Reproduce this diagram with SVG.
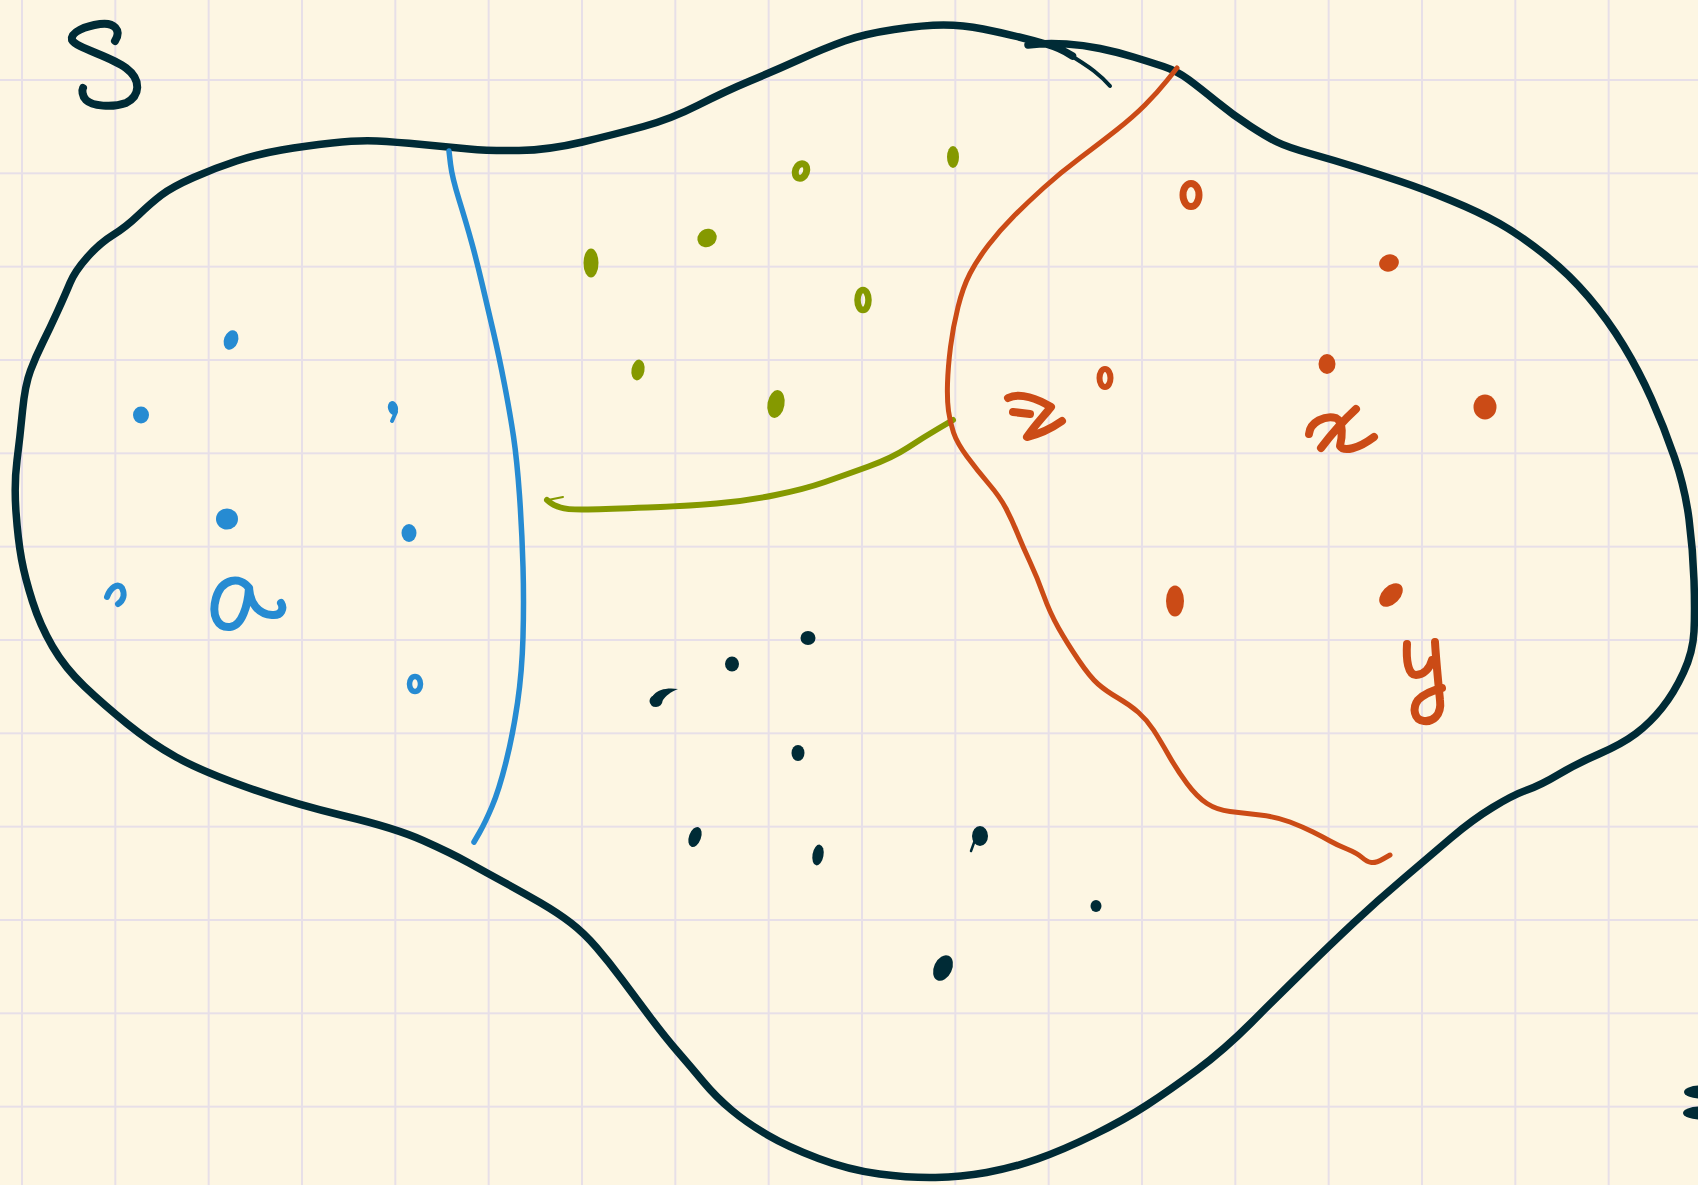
<svg xmlns="http://www.w3.org/2000/svg" width="1698" height="1185" viewBox="0 0 1698 1185">
<style>
.ink{fill:none;stroke-linecap:round;stroke-linejoin:round}
.outline{stroke:#002b36;stroke-width:7.5}
.bl{fill:#268bd2}.gr{fill:#859900}.dk{fill:#002b36}.or{fill:#cb4b16}
.blS{stroke:#268bd2}.grS{stroke:#859900}.orS{stroke:#cb4b16}.dkS{stroke:#002b36}
.ringB{fill:none;stroke:#268bd2}.ringG{fill:none;stroke:#859900}.ringO{fill:none;stroke:#cb4b16}
</style>
<defs>
<pattern id="grid" x="21" y="-14.33" width="93.333" height="93.333" patternUnits="userSpaceOnUse">
<path d="M1 0 V93.333 M0 1 H93.333" stroke="#e7dfe8" stroke-width="2" fill="none"/>
</pattern>
</defs>
<rect width="1698" height="1185" fill="#fdf6e3"/>
<rect width="1698" height="1185" fill="url(#grid)"/>

<g id="set-S">
<path class="ink outline" d="M 1028 45 L 1039 44 Q 1050 43 1066.5 44 Q 1083 45 1100 48.5 Q 1117 52 1133.5 57 Q 1150 62 1163.5 66.5 Q 1177 71 1188.5 79.5 Q 1200 88 1216.5 101.5 Q 1233 115 1250 126 Q 1267 137 1277 142 Q 1287 147 1310 153.5 Q 1333 160 1355.5 167 Q 1378 174 1400.5 181.5 Q 1423 189 1451 200.5 Q 1479 212 1499.5 223.5 Q 1520 235 1544.5 254.5 Q 1569 274 1588.5 297 Q 1608 320 1623.5 345.5 Q 1639 371 1651.5 399 Q 1664 427 1674.5 457.5 Q 1685 488 1689 519 Q 1693 550 1694 580.5 Q 1695 611 1694 631.5 Q 1693 652 1683.5 672.5 Q 1674 693 1662 708 Q 1650 723 1636 733.5 Q 1622 744 1599 754 Q 1576 764 1558.5 774.5 Q 1541 785 1527 790 Q 1513 795 1492.5 807.5 Q 1472 820 1451 838 Q 1430 856 1403.5 878.5 Q 1377 901 1353.5 923 Q 1330 945 1304 970.5 Q 1278 996 1251 1023 Q 1224 1050 1197 1070 Q 1170 1090 1147 1105 Q 1124 1120 1093.5 1135 Q 1063 1150 1037.5 1159 Q 1012 1168 986.5 1172.5 Q 961 1177 935.5 1177.5 Q 910 1178 879.5 1174 Q 849 1170 818.5 1158.5 Q 788 1147 767.5 1135 Q 747 1123 731.5 1110 Q 716 1097 703.5 1082 Q 691 1067 678 1052 Q 665 1037 650 1017 Q 635 997 622 979.5 Q 609 962 596.5 947.5 Q 584 933 571 923 Q 558 913 540 902.5 Q 522 892 504.5 882.5 Q 487 873 469 863 Q 451 853 423 840.5 Q 395 828 344.5 816 Q 294 804 247.5 787.5 Q 201 771 176 757 Q 151 743 127.5 724 Q 104 705 84.5 686.5 Q 65 668 52.5 646.5 Q 40 625 32.5 601.5 Q 25 578 21.5 559 Q 18 540 16 512 Q 14 484 17 460.5 Q 20 437 22.5 411 Q 25 385 30.5 370.5 Q 36 356 43 342 Q 50 328 57.5 311.5 Q 65 295 70 283 Q 75 271 87.5 257 Q 100 243 113 235 Q 126 227 138.5 215 Q 151 203 161.5 195 Q 172 187 193.5 177.5 Q 215 168 236.5 161 Q 258 154 281.5 150 Q 305 146 332 143 Q 359 140 377 141 Q 395 142 422 144.5 Q 449 147 469 149 Q 489 151 519 150.5 Q 549 150 582.5 142 Q 616 134 643.5 126.5 Q 671 119 698.5 105 Q 726 91 750 81 Q 774 71 799.5 59.5 Q 825 48 844.5 41 Q 864 34 894 29.5 Q 924 25 943.5 25 Q 963 25 983 29 Q 1003 33 1019 37 Q 1035 41 1047.5 44.5 Q 1060 48 1072.5 56"/>
<path class="ink dkS" stroke-width="4" d="M 1065 52 Q 1085 64 1094 71 Q 1103 78 1110 86"/>
<path class="ink dkS" stroke-width="8" d="M 115 41 C 122 30, 114 22, 100 24 C 86 26, 70 32, 72 40 C 76 48, 110 56, 126 68 C 142 80, 140 96, 126 103 C 112 108, 92 106, 86 100 C 82 96, 82 90, 83 88"/>
<ellipse class="dk" cx="1700" cy="1092" rx="16" ry="6.5"/>
<ellipse class="dk" cx="1700" cy="1113" rx="17" ry="6.5"/>
</g>

<g id="connectors">
<path id="blue-cut" class="ink blS" stroke-width="5.5" d="M 449 151 L 450.5 164 Q 452 177 459.3 200.5 Q 466.6 224 471.8 243 Q 477 262 482.5 285.5 Q 488 309 493.5 332.5 Q 499 356 504.5 384.5 Q 510 413 513.5 436.5 Q 517 460 519.5 495.5 Q 522 531 523 566.5 Q 524 602 523 637 Q 522 672 517.5 703 Q 513 734 506 762 Q 499 790 492 806.5 Q 485 823 479.5 832.5 L 474 842"/>
<path id="green-cut" class="ink grS" stroke-width="6" d="M 953 420 L 938.5 428.5 Q 924 437 908 447.5 Q 892 458 868.5 466.5 Q 845 475 825 482 Q 805 489 775.5 495 Q 746 501 716.5 503.5 Q 687 506 647.5 507.5 Q 608 509 588 509.5 Q 568 510 560.5 507.5 Q 553 505 550 502.5 L 547 500"/>
<path class="ink grS" stroke-width="2" d="M 548 500 L 563 497"/>
<path id="orange-cut" class="ink orS" stroke-width="5" d="M 1177 68 L 1167 80.5 Q 1157 93 1145 105 Q 1133 117 1116.5 130 Q 1100 143 1080 158 Q 1060 173 1043.5 188 Q 1027 203 1013.5 216.5 Q 1000 230 988.5 245 Q 977 260 970 273.5 Q 963 287 958 307 Q 953 327 950.5 347 Q 948 367 947.5 383.5 Q 947 400 948.5 411 Q 950 422 953.5 432.5 Q 957 443 967 456.5 Q 977 470 988.5 483.5 Q 1000 497 1006 508.5 Q 1012 520 1017.5 533.5 Q 1023 547 1030 562 Q 1037 577 1043.5 595 Q 1050 613 1058.5 628 Q 1067 643 1078.5 660 Q 1090 677 1098 684 Q 1106 691 1118 698 Q 1130 705 1138.5 712.5 Q 1147 720 1153.5 730 Q 1160 740 1168.5 755 Q 1177 770 1187 783.5 Q 1197 797 1207 803.5 Q 1217 810 1230 811.5 Q 1243 813 1260 815 Q 1277 817 1290 822 Q 1303 827 1313 832 Q 1323 837 1330 841 Q 1337 845 1347 849 Q 1357 853 1362 857.5 Q 1367 862 1371.5 862.5 Q 1376 863 1383 859 L 1390 855"/>
</g>

<g id="region-a">
<ellipse class="bl" cx="231" cy="340" rx="7" ry="10" transform="rotate(20 231 340)"/>
<ellipse class="bl" cx="141" cy="415" rx="8" ry="8.5"/>
<ellipse class="bl" cx="393" cy="408" rx="5" ry="7" transform="rotate(-15 393 408)"/>
<path class="ink blS" stroke-width="4" d="M 396 412 L 392 421"/>
<ellipse class="bl" cx="227" cy="519" rx="11" ry="10.5"/>
<ellipse class="bl" cx="409" cy="533" rx="7.5" ry="9"/>
<ellipse class="ringB" cx="415" cy="684" rx="5.5" ry="7.5" stroke-width="5.5"/>
<path class="ink blS" stroke-width="6" d="M 107 597 C 110 588, 118 582, 122 588 C 125 594, 124 600, 118 604"/>
<path class="ink blS" stroke-width="8" d="M 249 588 C 240 576, 222 578, 216 598 C 211 616, 218 628, 230 627 C 242 626, 248 605, 249 588 C 250 603, 258 614, 272 615 C 282 616, 284 608, 281 603"/>
</g>

<g id="region-green">
<ellipse class="gr" cx="953" cy="157" rx="6" ry="11"/>
<ellipse class="ringG" cx="801" cy="171" rx="5.5" ry="7.5" stroke-width="7" transform="rotate(20 801 171)"/>
<ellipse class="gr" cx="707" cy="238" rx="10" ry="9" transform="rotate(-35 707 238)"/>
<ellipse class="gr" cx="591" cy="263" rx="7.5" ry="14.5"/>
<ellipse class="ringG" cx="863" cy="300" rx="5.5" ry="10" stroke-width="6.5"/>
<ellipse class="gr" cx="638" cy="370" rx="6.5" ry="10.5" transform="rotate(10 638 370)"/>
<ellipse class="gr" cx="776" cy="404" rx="8.5" ry="14" transform="rotate(10 776 404)"/>
</g>

<g id="region-dark">
<ellipse class="dk" cx="808" cy="638" rx="7.5" ry="7"/>
<ellipse class="dk" cx="732" cy="664" rx="7" ry="7.5"/>
<path class="dk" d="M 652 706 C 648 696, 658 686, 678 689 C 670 692, 666 696, 663 700 C 660 704, 656 708, 652 706 Z"/>
<ellipse class="dk" cx="656" cy="701" rx="6.5" ry="6"/>
<ellipse class="dk" cx="798" cy="753" rx="6.5" ry="8"/>
<ellipse class="dk" cx="695" cy="837" rx="6" ry="10.5" transform="rotate(20 695 837)"/>
<ellipse class="dk" cx="818" cy="855" rx="5.5" ry="10.5" transform="rotate(10 818 855)"/>
<ellipse class="dk" cx="980" cy="836" rx="8" ry="10"/>
<path class="ink dkS" stroke-width="2.5" d="M 975 840 L 971 851"/>
<ellipse class="dk" cx="1096" cy="906" rx="5.5" ry="6"/>
<ellipse class="dk" cx="943" cy="968" rx="9" ry="13.5" transform="rotate(25 943 968)"/>
</g>

<g id="region-orange">
<ellipse class="ringO" cx="1191" cy="195" rx="8" ry="11.5" stroke-width="7"/>
<ellipse class="ringO" cx="1105" cy="378" rx="5.5" ry="9" stroke-width="6"/>
<ellipse class="or" cx="1389" cy="263" rx="10" ry="8.5" transform="rotate(-20 1389 263)"/>
<ellipse class="or" cx="1327" cy="364" rx="8.5" ry="10"/>
<ellipse class="or" cx="1485" cy="407" rx="11.5" ry="12.5"/>
<ellipse class="or" cx="1175" cy="601" rx="9" ry="15.5"/>
<ellipse class="or" cx="1391" cy="595" rx="9" ry="14" transform="rotate(45 1391 595)"/>
<path class="ink orS" stroke-width="8" d="M 1008 398 C 1020 392, 1038 399, 1051 407 C 1044 416, 1034 426, 1027 437 C 1040 434, 1052 428, 1062 421 M 1013 412 L 1030 414"/>
<path class="ink orS" stroke-width="8" d="M 1309 434 C 1310 422, 1325 415, 1336 418 C 1344 422, 1342 438, 1340 446 C 1344 452, 1358 449, 1374 437 M 1356 409 C 1344 420, 1330 436, 1321 448"/>
<path class="ink orS" stroke-width="8" d="M 1407 644 C 1406 660, 1408 675, 1416 675 C 1424 675, 1430 668, 1432 660 M 1435 642 C 1436 660, 1438 680, 1440 700 C 1442 716, 1432 722, 1424 721 C 1414 720, 1412 708, 1418 700 C 1424 694, 1434 690, 1442 688"/>
</g>
</svg>
